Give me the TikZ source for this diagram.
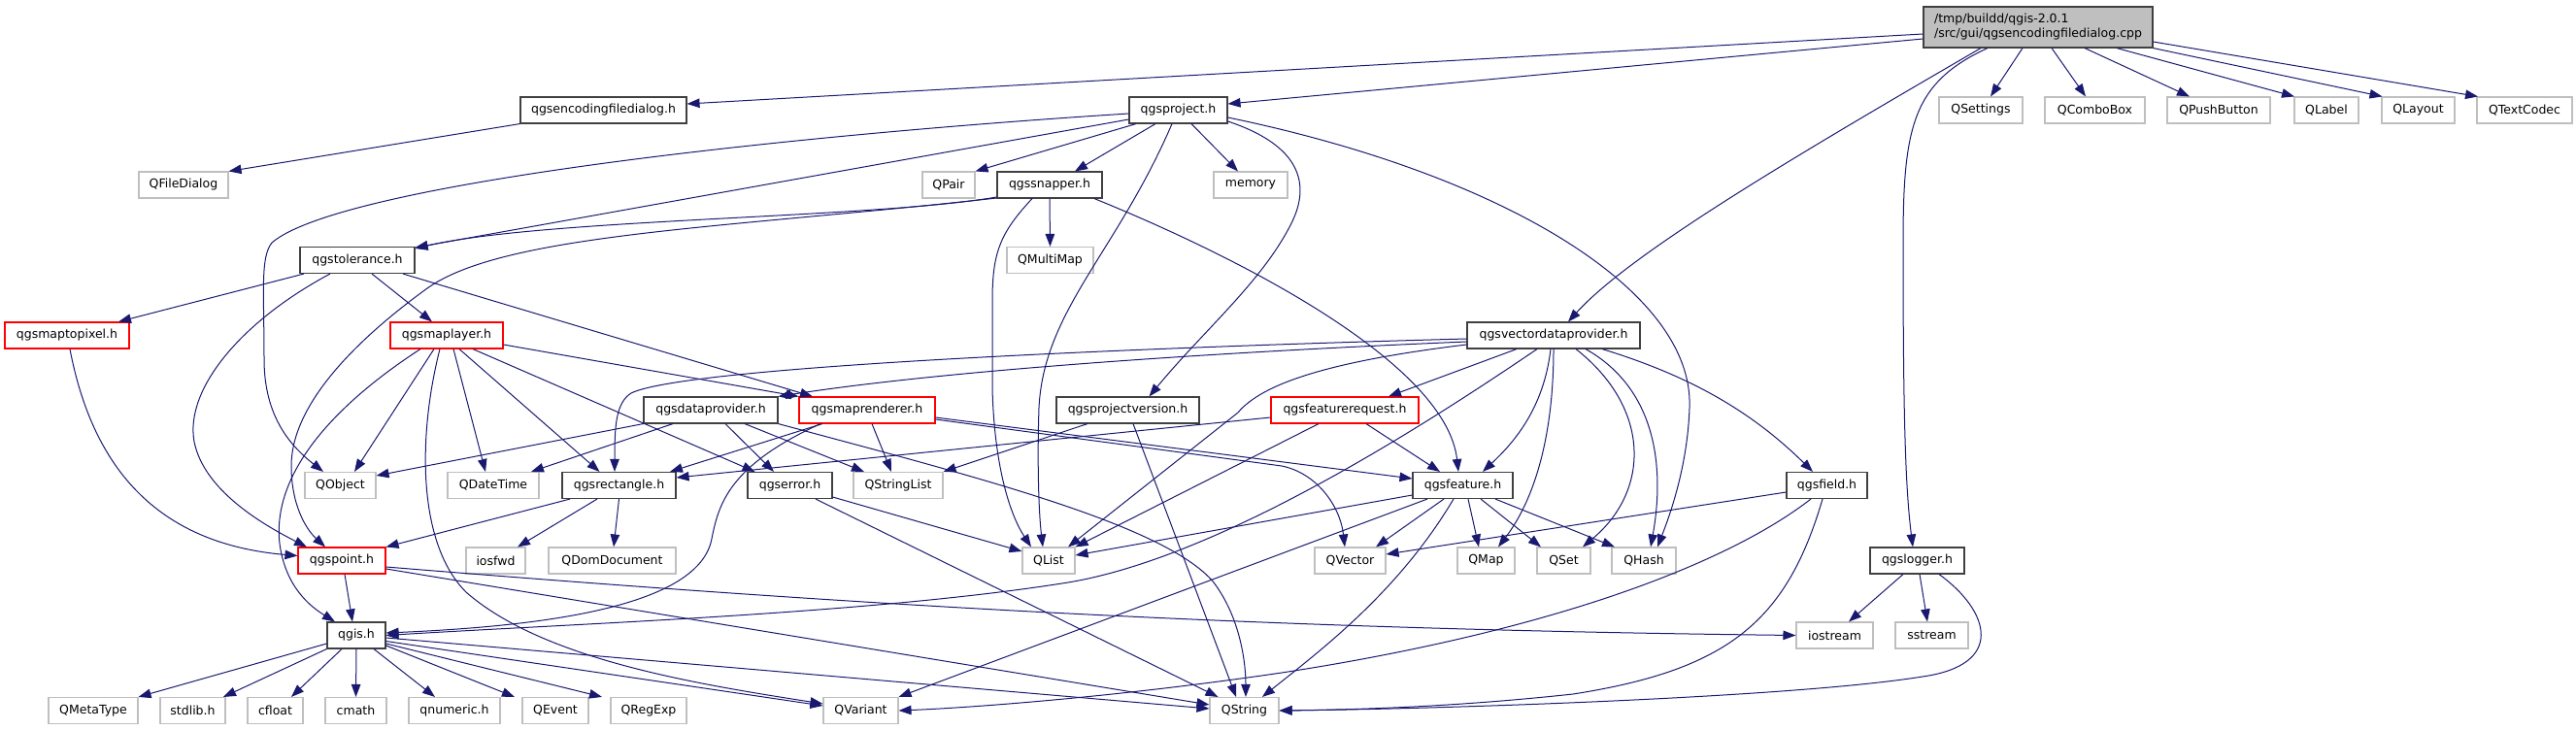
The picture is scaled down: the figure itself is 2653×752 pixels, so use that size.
\documentclass[tikz,border=0pt]{standalone}
\usepackage{fontspec}
\setmainfont{DejaVu Sans}
\usepackage{tikz}
\usetikzlibrary{arrows.meta}
\definecolor{edgeblue}{HTML}{191970}
\definecolor{extgray}{HTML}{BFBFBF}
\definecolor{srcgray}{HTML}{BFBFBF}
\definecolor{hdrline}{HTML}{404040}

\begin{document}
\begin{tikzpicture}[x=1pt,y=-1pt,font=\fontsize{12.5pt}{15pt}\selectfont,>={Triangle[length=13pt,width=9.5pt]}]
  \tikzset{hdr/.style={draw=hdrline,line width=1.1pt,fill=white,minimum height=27pt,inner sep=0pt},
    ext/.style={hdr,draw=extgray},
    part/.style={hdr,draw=red},
    src/.style={hdr,fill=srcgray,minimum height=42pt,align=left},
    dep/.style={->,draw=edgeblue,line width=1pt}}
  \useasboundingbox (0,0) rectangle (2653,752);

  \node[src,minimum width=236pt] (root) at (2099,28) {/tmp/buildd/qgis-2.0.1\\/src/gui/qgsencodingfiledialog.cpp};

  \node[hdr,minimum width=171pt] (encdlg) at (621.5,113.5) {qgsencodingfiledialog.h};
  \node[hdr,minimum width=101pt] (project) at (1213.5,113.5) {qgsproject.h};
  \node[ext,minimum width=86pt] (qsettings) at (2040,113.5) {QSettings};
  \node[ext,minimum width=103pt] (qcombobox) at (2157.5,113.5) {QComboBox};
  \node[ext,minimum width=106pt] (qpushbutton) at (2285,113.5) {QPushButton};
  \node[ext,minimum width=66pt] (qlabel) at (2396,113.5) {QLabel};
  \node[ext,minimum width=75pt] (qlayout) at (2490.5,113.5) {QLayout};
  \node[ext,minimum width=98pt] (qtextcodec) at (2600,113.5) {QTextCodec};

  \node[ext,minimum width=92pt] (qfiledialog) at (189,190.5) {QFileDialog};
  \node[ext,minimum width=54pt] (qpair) at (977,190.5) {QPair};
  \node[hdr,minimum width=108pt] (snapper) at (1081,190.5) {qgssnapper.h};
  \node[ext,minimum width=76pt] (memory) at (1288,190.5) {memory};

  \node[hdr,minimum width=118pt] (tolerance) at (368,268) {qgstolerance.h};
  \node[ext,minimum width=89pt] (qmultimap) at (1081.5,268) {QMultiMap};

  \node[part,minimum width=128pt] (maptopixel) at (69,345.5) {qgsmaptopixel.h};
  \node[part,minimum width=116pt] (maplayer) at (460,345.5) {qgsmaplayer.h};
  \node[hdr,minimum width=178pt] (vdp) at (1600,345.5) {qgsvectordataprovider.h};

  \node[hdr,minimum width=138pt] (dataprovider) at (732,422.5) {qgsdataprovider.h};
  \node[part,minimum width=140pt] (maprenderer) at (893,422.5) {qgsmaprenderer.h};
  \node[hdr,minimum width=147pt] (projectversion) at (1161.5,422.5) {qgsprojectversion.h};
  \node[part,minimum width=152pt] (featurerequest) at (1385,422.5) {qgsfeaturerequest.h};

  \node[ext,minimum width=73pt] (qobject) at (350.5,500) {QObject};
  \node[ext,minimum width=94pt] (qdatetime) at (508,500) {QDateTime};
  \node[hdr,minimum width=117pt] (rectangle) at (637.5,500) {qgsrectangle.h};
  \node[hdr,minimum width=87pt] (error) at (813.5,500) {qgserror.h};
  \node[ext,minimum width=92pt] (qstringlist) at (925,500) {QStringList};
  \node[hdr,minimum width=103pt] (feature) at (1506.5,500) {qgsfeature.h};
  \node[hdr,minimum width=83pt] (field) at (1881.5,500) {qgsfield.h};

  \node[part,minimum width=90pt] (point) at (352,577.5) {qgspoint.h};
  \node[ext,minimum width=61pt] (iosfwd) at (510.5,577.5) {iosfwd};
  \node[ext,minimum width=131pt] (qdomdocument) at (630.5,577.5) {QDomDocument};
  \node[ext,minimum width=54pt] (qlist) at (1080,577.5) {QList};
  \node[ext,minimum width=73pt] (qvector) at (1390.5,577.5) {QVector};
  \node[ext,minimum width=59pt] (qmap) at (1530.5,577.5) {QMap};
  \node[ext,minimum width=55pt] (qset) at (1610.5,577.5) {QSet};
  \node[ext,minimum width=66pt] (qhash) at (1693,577.5) {QHash};
  \node[hdr,minimum width=97pt] (logger) at (1974.5,577.5) {qgslogger.h};

  \node[hdr,minimum width=60pt] (qgis) at (367,654.5) {qgis.h};
  \node[ext,minimum width=79pt] (iostream) at (1889.5,654.5) {iostream};
  \node[ext,minimum width=75pt] (sstream) at (1989.5,654.5) {sstream};

  \node[ext,minimum width=92pt] (qmetatype) at (96,732) {QMetaType};
  \node[ext,minimum width=67pt] (stdlib) at (198.5,732) {stdlib.h};
  \node[ext,minimum width=57pt] (cfloat) at (283.5,732) {cfloat};
  \node[ext,minimum width=63pt] (cmath) at (366.5,732) {cmath};
  \node[ext,minimum width=94pt] (qnumeric) at (468,732) {qnumeric.h};
  \node[ext,minimum width=68pt] (qevent) at (572,732) {QEvent};
  \node[ext,minimum width=78pt] (qregexp) at (668,732) {QRegExp};
  \node[ext,minimum width=77pt] (qvariant) at (886.5,732) {QVariant};
  \node[ext,minimum width=71pt] (qstring) at (1281.5,732) {QString};

  % source file
  \draw[dep] ([yshift=-7pt]root.west) -- ([yshift=6.5pt]encdlg.east);
  \draw[dep] ([yshift=-12pt]root.west) -- ([yshift=6.5pt]project.east);
  \draw[dep] ([xshift=-16pt]root.south) -- ([xshift=10pt]qsettings.north);
  \draw[dep] ([xshift=14pt]root.south) -- ([xshift=-9.5pt]qcombobox.north);
  \draw[dep] ([xshift=48pt]root.south) -- ([xshift=-30pt]qpushbutton.north);
  \draw[dep] ([xshift=81pt]root.south) -- ([xshift=-33pt]qlabel.north);
  \draw[dep] (root.south east) -- ([xshift=-37pt]qlayout.north);
  \draw[dep] ([yshift=-15pt]root.east) -- ([xshift=-48pt]qtextcodec.north);
  \draw[dep] ([xshift=-59pt]root.south) .. controls (1850,160) and (1680,260) .. ([xshift=15pt]vdp.north);
  \draw[dep] ([xshift=-52pt]root.south) .. controls (1970,85) and (1960,130) .. (1960,250) .. controls (1960,420) and (1962,500) .. ([xshift=-4.5pt]logger.north);

  \draw[dep] (encdlg.south west) -- (qfiledialog.north east);

  % qgsproject.h
  \draw[dep] ([xshift=-43.5pt]project.south) -- (qpair.north east);
  \draw[dep] ([xshift=-23.5pt]project.south) -- ([xshift=26pt]snapper.north);
  \draw[dep] ([xshift=13.5pt]project.south) -- ([xshift=-13pt]memory.north);
  \draw[dep] ([yshift=-3.5pt]project.west) .. controls (800,140) and (350,190) .. (280,250) .. controls (268,265) and (272,300) .. (272,370) .. controls (272,430) and (300,460) .. ([xshift=-17.5pt]qobject.north);
  \draw[dep] ([yshift=-9.5pt]project.west) -- ([yshift=13pt]tolerance.east);
  \draw[dep] ([xshift=-6.5pt]project.south) .. controls (1150,260) and (1075,320) .. (1070,420) .. controls (1068,480) and (1070,530) .. ([xshift=-6pt]qlist.north);
  \draw[dep] ([yshift=-11.5pt]project.east) .. controls (1340,150) and (1350,190) .. (1330,230) .. controls (1300,290) and (1240,340) .. ([xshift=22pt]projectversion.north);
  \draw[dep] ([yshift=-7.5pt]project.east) .. controls (1550,180) and (1745,300) .. (1740,420) .. controls (1738,480) and (1720,530) .. ([xshift=14pt]qhash.north);

  % qgssnapper.h
  \draw[dep] ([yshift=-12.5pt]snapper.west) .. controls (900,225) and (560,225) .. ([yshift=12pt]tolerance.east);
  \draw[dep] ([yshift=-13.5pt]snapper.west) .. controls (750,235) and (520,240) .. (440,297) .. controls (360,355) and (300,420) .. (300,480) .. controls (300,520) and (315,545) .. ([xshift=-17pt]point.north);
  \draw[dep] (snapper.south) -- (qmultimap.north);
  \draw[dep] ([xshift=-18pt]snapper.south) .. controls (1030,240) and (1022,260) .. (1022,310) -- (1022,400) .. controls (1024,480) and (1040,530) .. ([xshift=-18pt]qlist.north);
  \draw[dep] ([xshift=46pt]snapper.south) .. controls (1300,275) and (1490,380) .. ([xshift=-4.5pt]feature.north);

  % qgstolerance.h
  \draw[dep] ([xshift=-55pt]tolerance.south) -- ([xshift=53pt]maptopixel.north);
  \draw[dep] ([xshift=-28pt]tolerance.south) .. controls (250,330) and (190,400) .. (200,455) .. controls (210,505) and (270,540) .. ([xshift=-36pt]point.north);
  \draw[dep] ([xshift=15pt]tolerance.south) -- ([xshift=-15pt]maplayer.north);
  \draw[dep] ([xshift=47pt]tolerance.south) -- ([xshift=-56pt]maprenderer.north);

  \draw[dep] ([xshift=3pt]maptopixel.south) .. controls (95,480) and (160,560) .. ([yshift=5pt]point.west);

  % qgsmaplayer.h
  \draw[dep] ([xshift=-13pt]maplayer.south) -- ([xshift=14.5pt]qobject.north);
  \draw[dep] ([xshift=-27pt]maplayer.south) .. controls (340,420) and (280,490) .. (288,560) .. controls (294,605) and (320,625) .. ([xshift=-22pt]qgis.north);
  \draw[dep] ([xshift=-7pt]maplayer.south) .. controls (430,450) and (430,560) .. (480,610) .. controls (560,680) and (720,705) .. ([yshift=7pt]qvariant.west);
  \draw[dep] ([xshift=7pt]maplayer.south) -- ([xshift=-8pt]qdatetime.north);
  \draw[dep] ([xshift=13pt]maplayer.south) -- ([xshift=-20pt]rectangle.north);
  \draw[dep] ([xshift=27pt]maplayer.south) -- ([xshift=-36pt]error.north);
  \draw[dep] ([yshift=-9.5pt]maplayer.east) -- (maprenderer.north west);

  % qgsdataprovider.h
  \draw[dep] (dataprovider.south west) -- ([yshift=10pt]qobject.east);
  \draw[dep] ([xshift=-39pt]dataprovider.south) -- ([xshift=39pt]qdatetime.north);
  \draw[dep] ([xshift=15pt]dataprovider.south) -- ([xshift=-16.5pt]error.north);
  \draw[dep] ([xshift=35pt]dataprovider.south) -- ([xshift=-35pt]qstringlist.north);
  \draw[dep] (dataprovider.south east) .. controls (1000,490) and (1200,540) .. (1250,600) .. controls (1280,640) and (1283,690) .. ([xshift=1.5pt]qstring.north);

  % qgsmaprenderer.h
  \draw[dep] ([xshift=-48pt]maprenderer.south) .. controls (750,480) and (740,520) .. (733,555) .. controls (720,625) and (560,645) .. ([yshift=2.5pt]qgis.east);
  \draw[dep] ([xshift=-46pt]maprenderer.south) -- ([xshift=52.5pt]rectangle.north);
  \draw[dep] ([xshift=5pt]maprenderer.south) -- ([xshift=-7pt]qstringlist.north);
  \draw[dep] ([yshift=-7.5pt]maprenderer.east) -- ([yshift=7pt]feature.west);
  \draw[dep] ([yshift=-9.5pt]maprenderer.east) -- (1320,480) .. controls (1355,487) and (1380,520) .. ([xshift=-5.5pt]qvector.north);

  % qgsprojectversion.h
  \draw[dep] ([xshift=-41.5pt]projectversion.south) -- (qstringlist.north east);
  \draw[dep] ([xshift=5.5pt]projectversion.south) -- ([xshift=-8.5pt]qstring.north);

  % qgsfeaturerequest.h
  \draw[dep] ([yshift=-7.5pt]featurerequest.west) -- ([yshift=8pt]rectangle.east);
  \draw[dep] ([xshift=22pt]featurerequest.south) -- ([xshift=-23.5pt]feature.north);
  \draw[dep] ([xshift=-27pt]featurerequest.south) -- (qlist.north east);

  % qgsvectordataprovider.h
  \draw[dep] ([yshift=-6.5pt]vdp.west) .. controls (1200,365) and (950,385) .. (dataprovider.north east);
  \draw[dep] ([yshift=-3.5pt]vdp.west) .. controls (1100,360) and (700,380) .. (650,405) .. controls (634,415) and (633,440) .. ([xshift=-4.5pt]rectangle.north);
  \draw[dep] ([yshift=-9.5pt]vdp.west) .. controls (1370,372) and (1300,395) .. (1275,425) -- ([xshift=20pt]qlist.north);
  \draw[dep] ([xshift=-38pt]vdp.south) -- ([xshift=45pt]featurerequest.north);
  \draw[dep] ([xshift=-17pt]vdp.south) .. controls (1450,450) and (1250,575) .. (1100,600) .. controls (900,632) and (600,642) .. (qgis.east);
  \draw[dep] ([xshift=-3pt]vdp.south) .. controls (1590,420) and (1560,455) .. ([xshift=20.5pt]feature.north);
  \draw[dep] (vdp.south) .. controls (1600,450) and (1580,515) .. ([xshift=12.5pt]qmap.north);
  \draw[dep] ([xshift=23pt]vdp.south) .. controls (1700,420) and (1700,505) .. ([xshift=19.5pt]qset.north);
  \draw[dep] ([xshift=33pt]vdp.south) .. controls (1705,400) and (1715,480) .. ([xshift=7pt]qhash.north);
  \draw[dep] ([xshift=50pt]vdp.south) .. controls (1750,390) and (1810,430) .. ([xshift=-14.5pt]field.north);

  % qgsfeature.h
  \draw[dep] ([yshift=-10pt]feature.west) -- ([yshift=5.5pt]qlist.east);
  \draw[dep] ([xshift=-36.5pt]feature.south) -- (qvariant.north east);
  \draw[dep] ([xshift=-19.5pt]feature.south) -- ([xshift=26.5pt]qvector.north);
  \draw[dep] ([xshift=5.5pt]feature.south) -- ([xshift=-7.5pt]qmap.north);
  \draw[dep] ([xshift=18.5pt]feature.south) -- ([xshift=-23.5pt]qset.north);
  \draw[dep] ([xshift=33.5pt]feature.south) -- ([xshift=-30pt]qhash.north);
  \draw[dep] ([xshift=-9.5pt]feature.south) .. controls (1440,610) and (1360,670) .. ([xshift=18.5pt]qstring.north);

  % qgsfield.h
  \draw[dep] ([yshift=-7pt]field.west) -- ([yshift=6.5pt]qvector.east);
  \draw[dep] ([xshift=-16.5pt]field.south) .. controls (1780,580) and (1600,650) .. (1320,693) .. controls (1150,718) and (1000,729) .. (qvariant.east);
  \draw[dep] ([xshift=-4.5pt]field.south) .. controls (1840,640) and (1780,690) .. (1620,715) .. controls (1500,728) and (1400,731) .. (qstring.east);

  % qgslogger.h
  \draw[dep] ([xshift=-14.5pt]logger.south) -- ([xshift=14.5pt]iostream.north);
  \draw[dep] ([xshift=2.5pt]logger.south) -- ([xshift=-4.5pt]sstream.north);
  \draw[dep] ([xshift=22.5pt]logger.south) .. controls (2050,630) and (2065,685) .. (1980,697) .. controls (1850,718) and (1500,730) .. (qstring.east);

  % qgsrectangle.h, qgserror.h
  \draw[dep] ([xshift=-50.5pt]rectangle.south) -- (point.north east);
  \draw[dep] ([xshift=-22.5pt]rectangle.south) -- ([xshift=22.5pt]iosfwd.north);
  \draw[dep] (rectangle.south) -- ([xshift=1.5pt]qdomdocument.north);
  \draw[dep] ([yshift=-12pt]error.east) -- ([yshift=9.5pt]qlist.west);
  \draw[dep] ([xshift=26.5pt]error.south) -- ([xshift=-27pt]qstring.north);

  % qgspoint.h
  \draw[dep] ([xshift=3pt]point.south) -- ([xshift=-4pt]qgis.north);
  \draw[dep] ([yshift=-6.5pt]point.east) .. controls (900,625) and (1300,648) .. (iostream.west);
  \draw[dep] ([yshift=-8.5pt]point.east) -- ([yshift=6pt]qstring.west);

  % qgis.h
  \draw[dep] ([yshift=-8.5pt]qgis.west) -- (qmetatype.north east);
  \draw[dep] (qgis.south west) -- ([xshift=31.5pt]stdlib.north);
  \draw[dep] ([xshift=-15pt]qgis.south) -- ([xshift=16.5pt]cfloat.north);
  \draw[dep] (qgis.south) -- (cmath.north);
  \draw[dep] ([xshift=18pt]qgis.south) -- ([xshift=-20pt]qnumeric.north);
  \draw[dep] ([yshift=-10.5pt]qgis.east) -- ([xshift=-42pt]qevent.north);
  \draw[dep] ([yshift=-8.5pt]qgis.east) -- ([xshift=-48pt]qregexp.north);
  \draw[dep] ([yshift=-6pt]qgis.east) -- ([yshift=5pt]qvariant.west);
  \draw[dep] ([yshift=-2.5pt]qgis.east) -- ([yshift=2pt]qstring.west);
\end{tikzpicture}
\end{document}
